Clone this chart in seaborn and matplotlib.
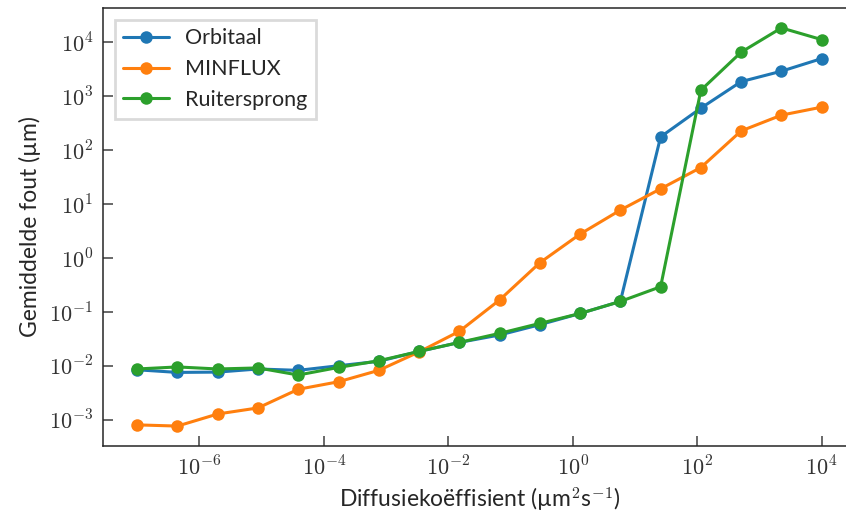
import numpy as np
import pandas as pd
import matplotlib
matplotlib.use("Agg")
import matplotlib.pyplot as plt
import matplotlib.ticker as mticker
import seaborn as sns

# Diffusion coefficients (um^2/s), log-spaced from 1e-7 to 1e4
diffusion = np.logspace(-7, 4, 18)

orbitaal = [0.0085, 0.0076, 0.0077, 0.0088, 0.0083, 0.0101, 0.0122, 0.0186,
            0.0273, 0.0375, 0.0582, 0.094, 0.157, 176, 600, 1860, 2900, 4970]
minflux = [0.00081, 0.00077, 0.00129, 0.00167, 0.0037, 0.0051, 0.0083, 0.0182,
           0.0438, 0.167, 0.818, 2.78, 7.74, 19.2, 47.6, 227, 445, 626]
ruitersprong = [0.0088, 0.0096, 0.0088, 0.0092, 0.0068, 0.0094, 0.0125, 0.0186,
                0.0273, 0.0402, 0.0615, 0.094, 0.157, 0.294, 1290, 6530, 18400, 11170]

methods = ["Orbitaal", "MINFLUX", "Ruitersprong"]
series = [orbitaal, minflux, ruitersprong]

df = pd.concat(
    [pd.DataFrame({"D": diffusion, "err": vals, "method": name})
     for name, vals in zip(methods, series)],
    ignore_index=True,
)

sns.set_theme(style="ticks")
plt.rcParams["font.family"] = ["Lato", "DejaVu Sans"]
plt.rcParams["mathtext.fontset"] = "cm"

fig = plt.figure(figsize=(8.46, 5.16), dpi=100)
ax = fig.add_axes([0.1217, 0.1357, 0.890, 0.8488])

sns.lineplot(data=df, x="D", y="err", hue="method", hue_order=methods,
             palette=["#1f77b4", "#ff7f0e", "#2ca02c"], marker="o",
             markersize=9, markeredgewidth=0, linewidth=2.2, ax=ax)

ax.set_xscale("log")
ax.set_yscale("log")

ax.xaxis.set_major_locator(mticker.FixedLocator([1e-6, 1e-4, 1e-2, 1e0, 1e2, 1e4]))
ax.yaxis.set_major_locator(mticker.FixedLocator([1e-3, 1e-2, 1e-1, 1e0, 1e1, 1e2, 1e3, 1e4]))
ax.xaxis.set_minor_locator(mticker.NullLocator())
ax.yaxis.set_minor_locator(mticker.NullLocator())
fmt = mticker.FuncFormatter(lambda v, p: r"$10^{%d}$" % int(round(np.log10(v))))
ax.xaxis.set_major_formatter(fmt)
ax.yaxis.set_major_formatter(fmt)

ax.tick_params(axis="both", which="major", direction="in", length=7.5, width=1.1,
               labelsize=16, color=".25", labelcolor=".2", pad=7)
for s in ax.spines.values():
    s.set_color(".15")
    s.set_linewidth(1.1)

ax.set_xlabel("Diffusiekoëffisient (µm$^2$s$^{-1}$)", fontsize=16.5, color=".15",
              labelpad=4)
ax.set_ylabel("Gemiddelde fout (µm)", fontsize=16.5, color=".15", labelpad=6)

leg = ax.legend(loc="upper left", fontsize=15.5, fancybox=False, frameon=True,
                handlelength=2.1, borderpad=0.4, labelspacing=0.5,
                handletextpad=0.75, borderaxespad=0.55)
leg.get_frame().set_edgecolor("0.82")
leg.get_frame().set_linewidth(2)
for t in leg.get_texts():
    t.set_color(".15")

fig.savefig("out.png", dpi=100)
